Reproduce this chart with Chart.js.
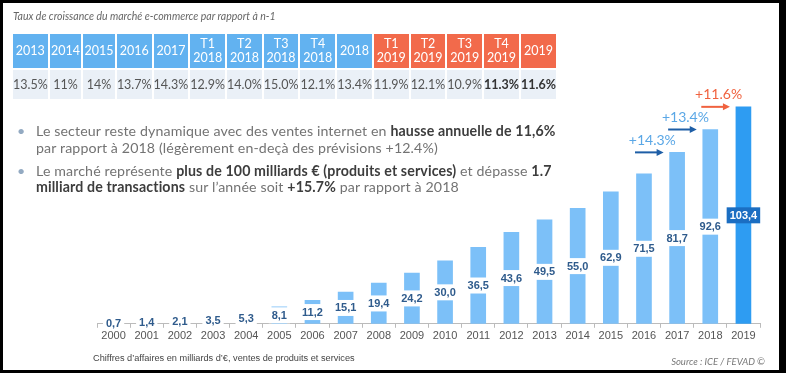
<!DOCTYPE html>
<html>
<head>
<meta charset="utf-8">
<script src="https://cdn.jsdelivr.net/npm/chart.js@4.4.0/dist/chart.umd.min.js"></script>
<style>
  html, body { margin: 0; padding: 0; background: #000; }
  #frame { position: absolute; left: 3px; top: 3px; width: 776px; height: 367px; background: #fff; }
  #chartCanvas { position: absolute; left: 0; top: 0; }
  .title { position: absolute; left: 13px; top: 10px; font: italic 10.5px Lato, sans-serif; color: #666; }
  #growth { position: absolute; left: 13px; top: 34px; width: 543px; display: grid;
            grid-template-columns: repeat(15, 1fr); grid-template-rows: 34px 29px; gap: 2px; }
  #growth div { display: flex; align-items: center; justify-content: center; text-align: center;
                font: 12.5px Lato, sans-serif; line-height: 14px; }
  #growth .head { background: #62b2f0; color: #fff; }
  #growth .head.cur { background: #f26a4b; }
  #growth .val { background: #eaf0f7; color: #555; }
  #growth .val.strong { color: #333; font-weight: 700; }
  .bullets { position: absolute; left: 36px; top: 123px; font: 14.2px Lato, sans-serif; letter-spacing: 0.12px;
             color: #737373; line-height: 16.5px; }
  .bullets p { margin: 0 0 6.5px 0; position: relative; }
  .bullets p::before { content: "\2022"; position: absolute; left: -19px; color: #93aac2; }
  .bullets b { color: #3d3d3d; font-weight: 700; }
  .note { position: absolute; left: 93px; top: 353px; font: 9.2px "Liberation Sans", Arial, sans-serif; color: #444; }
  .source { position: absolute; right: 21px; top: 356px; font: italic 9.5px Lato, sans-serif; color: #777; }
</style>
</head>
<body>
<div id="frame"></div>
<canvas id="chartCanvas" width="786" height="373"></canvas>
<div class="title">Taux de croissance du marché e-commerce par rapport à n-1</div>
<div id="growth"></div>
<div class="bullets">
  <p>Le secteur reste dynamique avec des ventes internet en <b>hausse annuelle de 11,6%</b><br>par rapport à 2018 (légèrement en-deçà des prévisions +12.4%)</p>
  <p>Le marché représente <b>plus de 100 milliards € (produits et services)</b> et dépasse <b>1.7</b><br><b>milliard de transactions</b> sur l’année soit <b>+15.7%</b> par rapport à 2018</p>
</div>
<div class="note">Chiffres d’affaires en milliards d’€, ventes de produits et services</div>
<div class="source">Source : ICE / FEVAD ©</div>

<script>
// Chiffre d'affaires (milliards d'euros)
const years = ['2000', '2001', '2002', '2003', '2004', '2005', '2006', '2007', '2008', '2009',
               '2010', '2011', '2012', '2013', '2014', '2015', '2016', '2017', '2018', '2019'];
const revenue = [0.7, 1.4, 2.1, 3.5, 5.3, 8.1, 11.2, 15.1, 19.4, 24.2,
                 30.0, 36.5, 43.6, 49.5, 55.0, 62.9, 71.5, 81.7, 92.6, 103.4];

// Taux de croissance (tableau du haut)
const growthPeriods = ['2013', '2014', '2015', '2016', '2017', 'T1 2018', 'T2 2018', 'T3 2018', 'T4 2018', '2018',
                       'T1 2019', 'T2 2019', 'T3 2019', 'T4 2019', '2019'];
const growthRates = ['13.5%', '11%', '14%', '13.7%', '14.3%', '12.9%', '14.0%', '15.0%', '12.1%', '13.4%',
                     '11.9%', '12.1%', '10.9%', '11.3%', '11.6%'];

// Fleches de croissance au-dessus des dernieres barres
const arrowFrom = ['2016', '2017', '2018'];
const arrowTo = ['2017', '2018', '2019'];
const arrowLabels = ['+14.3%', '+13.4%', '+11.6%'];

// Build the growth table
const grid = document.getElementById('growth');
growthPeriods.forEach(p => {
  const cell = document.createElement('div');
  cell.className = 'head' + (p.includes('2019') ? ' cur' : '');
  cell.innerHTML = p.replace(' ', '<br>');
  grid.appendChild(cell);
});
growthRates.forEach((r, i) => {
  const cell = document.createElement('div');
  cell.className = 'val' + (i >= growthRates.length - 2 ? ' strong' : '');
  cell.textContent = r;
  grid.appendChild(cell);
});

const lastIdx = revenue.length - 1;

// Value boxes at mid-height + growth arrows
const annotations = {
  id: 'annotations',
  afterDatasetsDraw(chart) {
    const ctx = chart.ctx;
    const meta = chart.getDatasetMeta(0);
    const base = chart.scales.y.getPixelForValue(0);
    ctx.save();
    ctx.font = 'bold 11px "Liberation Sans", Arial, sans-serif';
    ctx.textAlign = 'center';
    ctx.textBaseline = 'middle';
    meta.data.forEach((bar, i) => {
      const text = revenue[i].toFixed(1).replace('.', ',');
      const cy = (bar.y + base) / 2;
      const w = ctx.measureText(text).width + 6;
      const last = i === lastIdx;
      ctx.fillStyle = last ? '#1b6ec2' : '#fff';
      ctx.fillRect(bar.x - w / 2, cy - 8, w, 16);
      ctx.fillStyle = last ? '#fff' : '#2f5b8c';
      ctx.fillText(text, bar.x, cy + 0.5);
    });

    arrowTo.forEach((yr, k) => {
      const to = meta.data[years.indexOf(yr)];
      const from = meta.data[years.indexOf(arrowFrom[k])];
      const y = to.y;
      const x0 = from.x - 9;
      const x1 = to.x - to.width / 2 - 6;
      const isLast = yr === years[lastIdx];
      const lineCol = isLast ? '#f0623f' : '#1e5ea6';
      ctx.strokeStyle = lineCol;
      ctx.fillStyle = lineCol;
      ctx.lineWidth = 2;
      ctx.beginPath();
      ctx.moveTo(x0, y);
      ctx.lineTo(x1 - 5, y);
      ctx.stroke();
      ctx.beginPath();
      ctx.moveTo(x1, y);
      ctx.lineTo(x1 - 7, y - 3.5);
      ctx.lineTo(x1 - 7, y + 3.5);
      ctx.closePath();
      ctx.fill();
      ctx.font = '14px Lato, sans-serif';
      ctx.fillStyle = isLast ? '#f0623f' : '#5aa7e6';
      ctx.fillText(arrowLabels[k], (x0 + x1) / 2 + 3, y - 12);
    });
    ctx.restore();
  }
};

new Chart(document.getElementById('chartCanvas').getContext('2d'), {
  type: 'bar',
  data: {
    labels: years,
    datasets: [{
      data: revenue,
      backgroundColor: revenue.map((v, i) => i === lastIdx ? '#2e9cf2' : '#7cc0f8'),
      barThickness: 15,
      borderWidth: 0
    }]
  },
  options: {
    responsive: false,
    animation: false,
    layout: { padding: { left: 97, right: 26, top: 93, bottom: 28 } },
    plugins: { legend: { display: false }, tooltip: { enabled: false } },
    scales: {
      x: {
        grid: { display: true, drawOnChartArea: false, drawTicks: true, tickLength: 4, color: '#bbb', offset: true },
        border: { color: '#bbb' },
        ticks: { color: '#555', padding: 2, maxRotation: 0, autoSkip: false,
                 font: { family: '"Liberation Sans", Arial, sans-serif', size: 11 } }
      },
      y: { display: false, min: 0, max: 110 }
    }
  },
  plugins: [annotations]
});
</script>
</body>
</html>
